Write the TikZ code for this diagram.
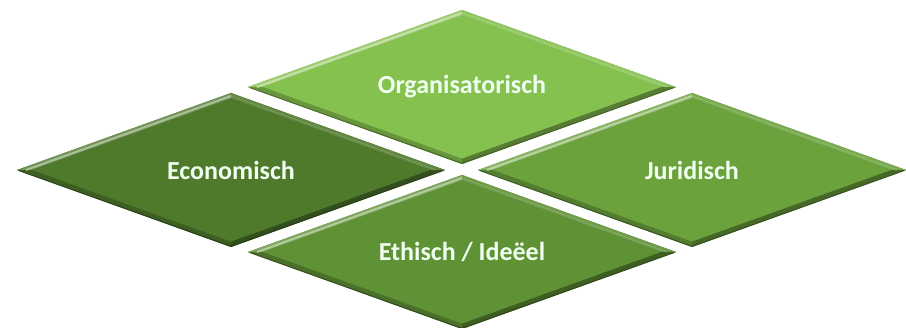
\documentclass[tikz,border=0pt]{standalone}
\usepackage{fontspec}
\setmainfont{Carlito}
\definecolor{orgc}{HTML}{85C14E}
\definecolor{ecoc}{HTML}{4F7A2C}
\definecolor{jurc}{HTML}{6BA23C}
\definecolor{ethc}{HTML}{5F9135}
\tikzset{lbl/.style={text=white!94!green, font=\fontsize{26}{30}\selectfont\bfseries, inner sep=0pt}}
\newcommand\gemshape[5]{%
\begin{scope}[shift={(#2,#3)}]
 \fill[#4!80!black] (-214,0) -- (0,-77) -- (214,0) -- (0,77) -- cycle;
 \fill[#4!80!white] (-214,0) -- (0,-77) -- (0,-71.5) -- (-199,0) -- cycle;
 \fill[#4!90!white] (0,-77) -- (214,0) -- (199,0) -- (0,-71.5) -- cycle;
 \fill[#4!78!black] (-214,0) -- (0,77) -- (0,71.5) -- (-199,0) -- cycle;
 \fill[#4!65!black] (0,77) -- (214,0) -- (199,0) -- (0,71.5) -- cycle;
 \draw[#4!40!white, line width=2pt, opacity=0.8] (-205,0) -- (0,-74);
 \draw[#4!70!white, line width=1.2pt, opacity=0.6] (0,-74) -- (205,0);
 \draw[#4!45!black, line width=1pt, opacity=0.7] (-212,0.7) -- (0,76.3) -- (212,0.7);
 \fill[#4] (-199,0) -- (0,-71.5) -- (199,0) -- (0,71.5) -- cycle;
\end{scope}
\node[lbl] (#1) at (#2,#3) {#5};}
\begin{document}
\begin{tikzpicture}[x=1pt,y=-1pt]
\useasboundingbox (0,0) rectangle (906,328);
\fill[white] (0,0) rectangle (906,328);
\gemshape{org}{462}{87}{orgc}{Organisatorisch}
\gemshape{eco}{231}{170}{ecoc}{Economisch}
\gemshape{jur}{692}{170}{jurc}{Juridisch}
\gemshape{eth}{462}{252}{ethc}{Ethisch / Ideëel}
\end{tikzpicture}
\end{document}
